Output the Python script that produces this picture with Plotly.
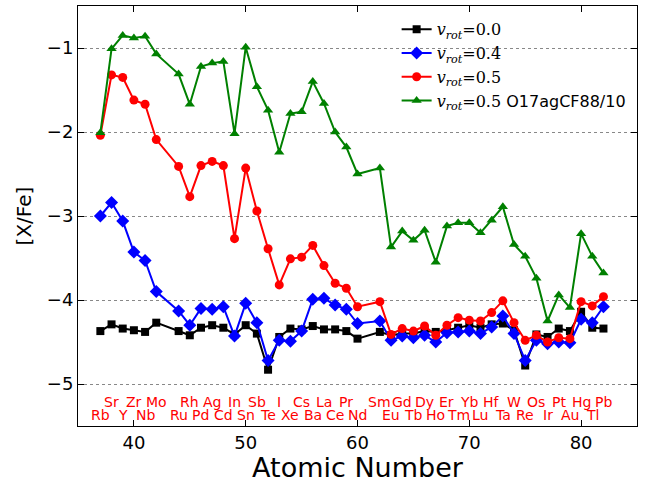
import plotly.graph_objects as go

Z = [37, 38, 39, 40, 41, 42, 44, 45, 46, 47, 48, 49, 50, 51, 52, 53, 54, 55, 56, 57, 58, 59, 60,
     62, 63, 64, 65, 66, 67, 68, 69, 70, 71, 72, 73, 74, 75, 76, 77, 78, 79, 80, 81, 82]
elements = ["Rb", "Sr", "Y", "Zr", "Nb", "Mo", "Ru", "Rh", "Pd", "Ag", "Cd", "In", "Sn", "Sb", "Te",
            "I", "Xe", "Cs", "Ba", "La", "Ce", "Pr", "Nd", "Sm", "Eu", "Gd", "Tb", "Dy", "Ho", "Er",
            "Tm", "Yb", "Lu", "Hf", "Ta", "W", "Re", "Os", "Ir", "Pt", "Au", "Hg", "Tl", "Pb"]

v00 = [-4.37, -4.29, -4.34, -4.36, -4.38, -4.27, -4.37, -4.42, -4.33, -4.30, -4.33, -4.41, -4.30,
       -4.40, -4.83, -4.44, -4.34, -4.35, -4.31, -4.35, -4.35, -4.37, -4.46,
       -4.38, -4.42, -4.40, -4.40, -4.37, -4.38, -4.36, -4.33, -4.30, -4.33, -4.29, -4.28,
       -4.36, -4.78, -4.41, -4.44, -4.34, -4.37, -4.14, -4.33, -4.34]
v04 = [-3.00, -2.84, -3.06, -3.43, -3.53, -3.90, -4.13, -4.30, -4.10, -4.11, -4.08, -4.43, -4.04,
       -4.27, -4.72, -4.48, -4.49, -4.37, -3.99, -3.98, -4.06, -4.11, -4.28,
       -4.25, -4.48, -4.43, -4.45, -4.42, -4.50, -4.39, -4.38, -4.37, -4.40, -4.32, -4.19,
       -4.40, -4.72, -4.48, -4.52, -4.50, -4.51, -4.23, -4.27, -4.08]
v05 = [-2.04, -1.32, -1.35, -1.62, -1.67, -2.09, -2.41, -2.77, -2.40, -2.35, -2.40, -3.27, -2.43,
       -2.94, -3.39, -3.82, -3.51, -3.49, -3.35, -3.59, -3.80, -3.86, -4.08,
       -4.02, -4.41, -4.34, -4.37, -4.31, -4.42, -4.30, -4.21, -4.24, -4.25, -4.15, -4.01,
       -4.27, -4.48, -4.42, -4.50, -4.45, -4.46, -4.02, -4.07, -3.96]
v05_cf88 = [-2.01, -1.01, -0.85, -0.88, -0.86, -1.07, -1.31, -1.67, -1.22, -1.18, -1.16, -2.02, -0.99,
            -1.46, -1.74, -2.24, -1.78, -1.76, -1.40, -1.66, -2.00, -2.18, -2.50,
            -2.43, -3.37, -3.18, -3.29, -3.17, -3.55, -3.12, -3.08, -3.08, -3.20, -3.05, -2.89,
            -3.34, -3.48, -3.74, -4.25, -3.94, -4.09, -3.21, -3.48, -3.68]

x_ticks = [40, 50, 60, 70, 80]
y_ticks = [-5, -4, -3, -2, -1]
label_rows = [-5.37, -5.21]

MATH = "<span style=\"font-family:'DejaVu Serif'\"><i>v</i><sub><i>rot</i></sub>=%s</span>"

series = [
    (v00, MATH % "0.0", "black", "square", 8),
    (v04, MATH % "0.4", "#0000ff", "diamond", 10),
    (v05, MATH % "0.5", "#ff0000", "circle", 9),
    (v05_cf88, MATH % "0.5" + " O17agCF88/10", "#008000", "triangle-up", 9),
]

fig = go.Figure()
for vals, name, col, sym, ms in series:
    fig.add_trace(go.Scatter(
        x=Z, y=vals, name=name, mode="lines+markers",
        line=dict(color=col, width=2),
        marker=dict(symbol=sym, size=ms, color=col, line=dict(width=0)),
    ))

for i, (z, el) in enumerate(zip(Z, elements)):
    fig.add_annotation(x=z, y=label_rows[i % 2], text=el, showarrow=False,
                       xref="x", yref="y", font=dict(color="#ff0000", size=14),
                       xanchor="center", yanchor="middle")

axis_common = dict(showline=True, linecolor="black", linewidth=1, mirror="allticks",
                   ticks="inside", ticklen=6, tickcolor="black", zeroline=False,
                   automargin=False, tickfont=dict(size=18, color="black"))

fig.update_xaxes(range=[35, 85], tickvals=x_ticks, showgrid=False,
                 title=dict(text="Atomic Number", font=dict(size=27, color="black"), standoff=5),
                 **axis_common)
fig.update_yaxes(range=[-5.5, -0.5], tickvals=y_ticks, showgrid=True, gridcolor="#888888",
                 griddash="dot", gridwidth=1,
                 title=dict(text="[X/Fe]", font=dict(size=20, color="black"), standoff=9),
                 **axis_common)

fig.update_layout(
    width=651, height=483,
    margin=dict(l=78, r=14, t=6, b=57),
    paper_bgcolor="white", plot_bgcolor="white",
    font=dict(family="DejaVu Sans", color="black"),
    legend=dict(x=0.57, y=0.985, xanchor="left", yanchor="top",
                bgcolor="rgba(0,0,0,0)", borderwidth=0,
                font=dict(size=16, color="black"), itemwidth=30),
)

fig.write_html("out.html", config={"displayModeBar": False},
               post_script="document.body.style.margin='0';document.body.style.overflow='hidden';")
